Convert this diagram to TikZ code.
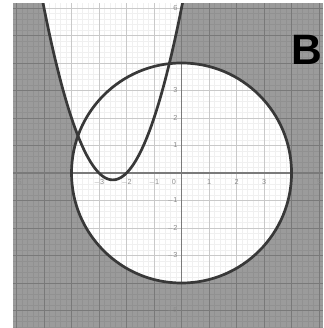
\documentclass[tikz,border=0pt]{standalone}
\usepackage{fontspec}
\setsansfont{Liberation Sans}
\definecolor{bggray}{HTML}{9B9B9B}
\definecolor{curvecol}{HTML}{383838}
\definecolor{axiscol}{HTML}{7A7A7A}
\definecolor{ticklab}{HTML}{8C8C8C}
\tikzset{
  minorgrid/.style={draw=black, draw opacity=0.06, line width=0.5pt},
  majorgrid/.style={draw=black, draw opacity=0.16, line width=0.9pt},
  axisline/.style={draw=axiscol, line width=1.4pt},
  curve/.style={draw=curvecol, line width=2.8pt},
  ticknum/.style={font=\sffamily\fontsize{7.5}{7.5}\selectfont, text=ticklab, inner sep=0pt},
}
\begin{document}
\begin{tikzpicture}[x=1cm,y=1cm]
\useasboundingbox (-6.6,-5.636) rectangle (5.145,6.29);
\coordinate (ll) at (-6.127,-5.636);
\coordinate (ur) at (5.145,6.18);
\coordinate (o) at (0,0);
\fill[bggray] (ll) rectangle (ur);
\begin{scope}
  \clip (ll) rectangle (ur);
  \fill[white] (o) circle (4);
  \fill[white] plot[domain=-5.036:0.036, samples=120] (\x,{\x*\x+5*\x+6}) -- cycle;
  \draw[minorgrid] (ll) grid[step=0.2] (ur);
  \draw[majorgrid] (ll) grid[step=1] (ur);
  \draw[axisline] (ll |- o) -- (ur |- o);
  \draw[axisline] (o |- ll) -- (o |- ur);
  \foreach \v/\t in {-6/$-$6,-5/$-$5,-3/$-$3,-2/$-$2,-1/$-$1,1/1,2/2,3/3,5/5}
    \node[ticknum] (xl\v) at (\v,-0.33) {\t};
  \node[ticknum] (zero) at (-0.28,-0.33) {0};
  \foreach \v/\t in {6/6,3/3,2/2,1/1,-1/$-$1,-2/$-$2,-3/$-$3,-5/$-$5}
    \node[ticknum, anchor=east] (yl\v) at (-0.14,\v) {\t};
  \draw[curve] (o) circle (4);
  \draw[curve] plot[domain=-5.3:0.3, samples=120] (\x,{\x*\x+5*\x+6});
\end{scope}
\node[font=\sffamily\bfseries\fontsize{44}{44}\selectfont, anchor=base east, inner sep=0pt] (lab) at (5.12,3.93) {B};
\end{tikzpicture}
\end{document}
